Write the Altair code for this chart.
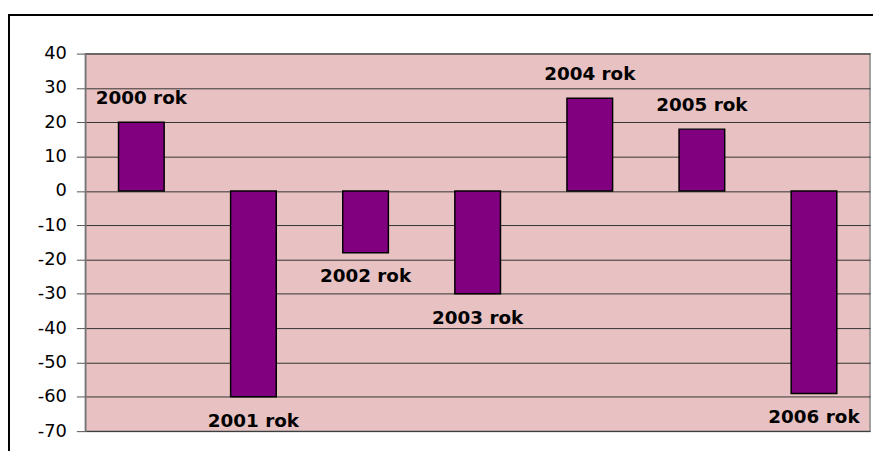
import altair as alt
import pandas as pd

years = ["2000 rok", "2001 rok", "2002 rok", "2003 rok", "2004 rok", "2005 rok", "2006 rok"]
values = [20, -60, -18, -30, 27, 18, -59]
y_ticks = [40, 30, 20, 10, 0, -10, -20, -30, -40, -50, -60, -70]

df = pd.DataFrame({"year": years, "value": values})

xscale = alt.Scale(paddingInner=0.593, paddingOuter=0.2965)
yscale = alt.Scale(domain=[-70, 40], nice=False, zero=False)
yaxis = alt.Axis(values=y_ticks, title=None, grid=True, gridColor="#333333",
                 gridWidth=1, domainColor="#777777", domainWidth=1.5,
                 tickColor="#555555", tickSize=9, labelPadding=10,
                 labelOverlap=False, labelExpr="'' + datum.value",
                 labelFont="DejaVu Sans", labelFontSize=18, labelColor="black")

base = alt.Chart(df)

frame = base.mark_rect(filled=False, stroke="black", strokeWidth=2, clip=False).encode(
    x=alt.value(-77), x2=alt.value(800), y=alt.value(-39), y2=alt.value(480)
).transform_filter(alt.datum.year == "2000 rok")

bars = base.mark_bar(color="#800080", stroke="black", strokeWidth=1.5).encode(
    x=alt.X("year:N", scale=xscale, axis=None, sort=years),
    y=alt.Y("value:Q", scale=yscale, axis=yaxis),
    y2=alt.datum(0),
)

text_pos = base.transform_filter(alt.datum.value > 0).mark_text(
    font="DejaVu Sans", fontWeight="bold", fontSize=18.5, color="black",
    baseline="middle", dy=-24
).encode(x=alt.X("year:N", scale=xscale, sort=years, axis=None),
         y=alt.Y("value:Q", scale=yscale, axis=yaxis), text="year:N")

text_neg = base.transform_filter(alt.datum.value < 0).mark_text(
    font="DejaVu Sans", fontWeight="bold", fontSize=18.5, color="black",
    baseline="middle", dy=24
).encode(x=alt.X("year:N", scale=xscale, sort=years, axis=None),
         y=alt.Y("value:Q", scale=yscale, axis=yaxis), text="year:N")

chart = alt.layer(frame, bars, text_pos, text_neg).properties(
    width=792, height=381,
    autosize=alt.AutoSizeParams(type="none"),
    padding={"left": 78, "top": 44, "right": 3, "bottom": 18},
    background="white",
).configure_view(fill="#e8c2c2", stroke="#888888", strokeWidth=1.5)

chart.save("out.html", embed_options={"renderer": "svg", "actions": False})
